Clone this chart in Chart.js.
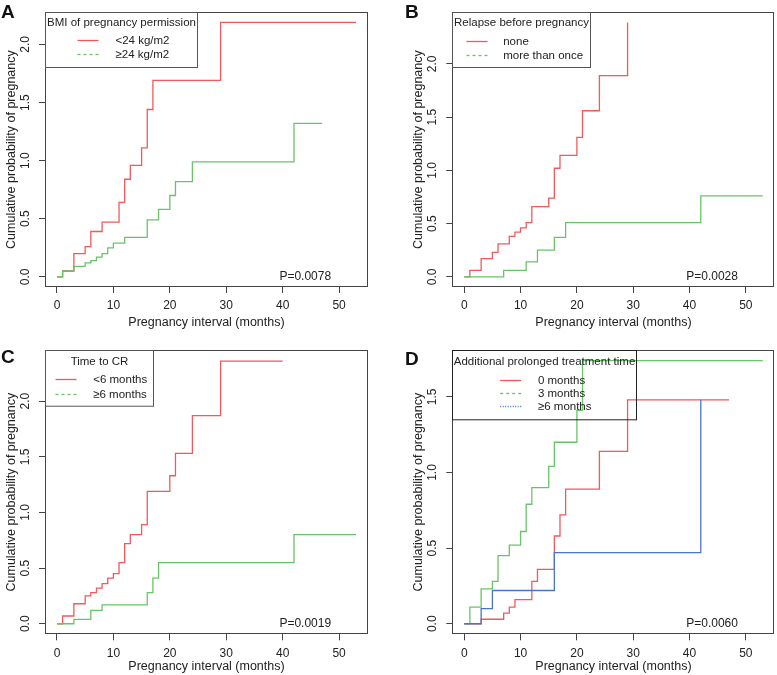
<!DOCTYPE html>
<html lang="en">
<head>
<meta charset="UTF-8">
<title>Cumulative probability of pregnancy</title>
<script src="https://cdn.jsdelivr.net/npm/chart.js"></script>
<style>
  body { margin: 0; background: #fff; font-family: "Liberation Sans", Arial, sans-serif; }
  .figure { position: relative; width: 777px; height: 675px; overflow: hidden; }
  .figure canvas { position: absolute; }
  .letter { position: absolute; font-weight: bold; font-size: 19px; line-height: 19px; color: #111; }
</style>
</head>
<body>
<div class="figure">
  <canvas id="chartA" width="388" height="335" style="left:0;top:0"></canvas>
  <canvas id="chartB" width="389" height="335" style="left:388px;top:0"></canvas>
  <canvas id="chartC" width="388" height="340" style="left:0;top:335px"></canvas>
  <canvas id="chartD" width="389" height="340" style="left:388px;top:335px"></canvas>
  <div class="letter" style="left:1px;top:2px">A</div>
  <div class="letter" style="left:405px;top:2px">B</div>
  <div class="letter" style="left:1px;top:347px">C</div>
  <div class="letter" style="left:405px;top:349px">D</div>
</div>

<script>
// axis text and ticks
const xTitle = 'Pregnancy interval (months)';
const yTitle = 'Cumulative probability of pregnancy';
const xTicks = [0, 10, 20, 30, 40, 50];
const yTicks = [0, 0.5, 1, 1.5, 2];
const yTicksD = [0, 0.5, 1, 1.5];

// A: BMI of pregnancy permission
const bmiTitle = 'BMI of pregnancy permission';
const bmiLabels = ['<24 kg/m2', '≥24 kg/m2'];
const bmiLowTime = [0, 1, 3, 5, 6, 8, 11, 12, 13, 15, 16, 17, 29, 53];
const bmiLowCum = [0, 0.05, 0.20, 0.26, 0.39, 0.47, 0.64, 0.84, 0.96, 1.11, 1.44, 1.69, 2.19, 2.19];
const bmiHighTime = [0, 1, 3, 5, 6, 7, 8, 9, 10, 12, 16, 18, 20, 21, 24, 42, 47];
const bmiHighCum = [0, 0.05, 0.09, 0.12, 0.14, 0.17, 0.20, 0.25, 0.29, 0.34, 0.49, 0.58, 0.70, 0.82, 0.99, 1.32, 1.32];

// B: Relapse before pregnancy
const relapseTitle = 'Relapse before pregnancy';
const relapseLabels = ['none', 'more than once'];
const relapseNoneTime = [0, 1, 3, 5, 6, 8, 9, 10, 11, 12, 15, 16, 17, 20, 21, 24, 29];
const relapseNoneCum = [0, 0.06, 0.17, 0.23, 0.31, 0.38, 0.42, 0.46, 0.51, 0.66, 0.74, 1.02, 1.14, 1.31, 1.56, 1.89, 2.39];
const relapseMoreTime = [0, 7, 11, 13, 16, 18, 42, 53];
const relapseMoreCum = [0, 0.06, 0.14, 0.25, 0.37, 0.51, 0.76, 0.76];

// C: Time to CR
const crTitle = 'Time to CR';
const crLabels = ['<6 months', '≥6 months'];
const crShortTime = [0, 1, 3, 5, 6, 7, 8, 9, 10, 11, 12, 13, 15, 16, 20, 21, 24, 29, 40];
const crShortCum = [0, 0.07, 0.18, 0.25, 0.28, 0.32, 0.36, 0.41, 0.45, 0.55, 0.72, 0.80, 0.89, 1.19, 1.33, 1.53, 1.87, 2.36, 2.36];
const crLongTime = [0, 3, 6, 8, 16, 17, 18, 42, 53];
const crLongCum = [0, 0.04, 0.12, 0.17, 0.28, 0.41, 0.55, 0.80, 0.80];

// D: Additional prolonged treatment time
const extraTitle = 'Additional prolonged treatment time';
const extraLabels = ['0 months', '3 months', '≥6 months'];
const extra0Time = [0, 3, 7, 8, 9, 12, 13, 16, 17, 18, 24, 29, 47];
const extra0Cum = [0, 0.03, 0.07, 0.11, 0.16, 0.28, 0.36, 0.58, 0.72, 0.89, 1.14, 1.48, 1.48];
const extra3Time = [0, 1, 3, 5, 6, 8, 10, 11, 12, 15, 16, 20, 21, 53];
const extra3Cum = [0, 0.11, 0.23, 0.28, 0.45, 0.52, 0.61, 0.79, 0.90, 1.04, 1.20, 1.41, 1.74, 1.74];
const extra6Time = [0, 3, 5, 16, 42];
const extra6Cum = [0, 0.10, 0.22, 0.47, 1.48];

const pValues = ['P=0.0078', 'P=0.0028', 'P=0.0019', 'P=0.0060'];
const pAt = 44; // months, text drawn at y = 0

const RED = '#f05a5c', GREEN = '#68c468', BLUE = '#4a74c6';
const TEXT = '#222', FONT = '"Liberation Sans", Arial, sans-serif';

function pts(times, cums) {
    return times.map((t, i) => ({ x: t, y: cums[i] }));
}

// box, legend and p-value drawn on top of the plot
const kmDecor = {
    id: 'kmDecor',
    afterDatasetsDraw(chart, args, opts) {
        const ctx = chart.ctx;
        const a = chart.chartArea;
        ctx.save();
        ctx.strokeStyle = '#444';
        ctx.lineWidth = 1;
        ctx.strokeRect(Math.round(a.left) + 0.5, Math.round(a.top) + 0.5,
            Math.round(a.right - a.left) - 1, Math.round(a.bottom - a.top) - 1);

        // legend
        const L = opts.legend;
        const lx = Math.round(a.left) + 0.5, ly = Math.round(a.top) + 0.5;
        ctx.strokeStyle = L.border;
        ctx.strokeRect(lx, ly, L.w, L.h);
        ctx.fillStyle = TEXT;
        ctx.font = '11.5px ' + FONT;
        ctx.textBaseline = 'middle';
        ctx.textAlign = 'center';
        ctx.fillText(opts.title, lx + L.w / 2, ly + L.titleY);
        ctx.textAlign = 'left';
        chart.data.datasets.forEach((ds, i) => {
            const y = Math.round(ly + L.rows[i]) + 0.5;
            ctx.strokeStyle = ds.borderColor;
            ctx.lineWidth = 1.3;
            ctx.setLineDash(L.dash[i]);
            ctx.beginPath();
            ctx.moveTo(lx + L.line[0], y);
            ctx.lineTo(lx + L.line[1], y);
            ctx.stroke();
            ctx.setLineDash([]);
            ctx.fillText(ds.label, lx + L.text, y);
        });

        // p value
        ctx.font = '12px ' + FONT;
        ctx.textAlign = 'center';
        ctx.fillText(opts.p, chart.scales.x.getPixelForValue(pAt), chart.scales.y.getPixelForValue(0));
        ctx.restore();
    }
};

function makeChart(id, series, title, p, ticksY, yMax, lay, legend) {
    const yMin = -0.04 * yMax, yTop = yMax * 1.04;
    return new Chart(document.getElementById(id), {
        type: 'line',
        data: {
            datasets: series.map((s, i) => ({
                label: s.label,
                data: pts(s.time, s.cum),
                borderColor: s.color,
                backgroundColor: s.color,
                borderWidth: 1.3,
                pointRadius: 0,
                stepped: 'before',
                fill: false,
                order: series.length - i
            }))
        },
        options: {
            responsive: false,
            animation: false,
            events: [],
            layout: { padding: { left: lay.padL, right: lay.padR, top: lay.padT, bottom: 0 } },
            scales: {
                x: {
                    type: 'linear',
                    min: -0.04 * 53,
                    max: 53 * 1.04,
                    afterBuildTicks: s => { s.ticks = xTicks.map(v => ({ value: v })); },
                    afterFit: s => { s.height = lay.axisH; },
                    grid: { drawOnChartArea: false, drawTicks: true, tickLength: 6, color: '#444' },
                    border: { display: false },
                    ticks: { autoSkip: false, maxRotation: 0, padding: lay.xPad, color: TEXT, font: { family: FONT, size: 12 } },
                    title: { display: true, text: xTitle, color: TEXT, font: { family: FONT, size: 12.5 }, padding: { top: 0, bottom: lay.titlePad } }
                },
                y: {
                    type: 'linear',
                    min: yMin,
                    max: yTop,
                    afterBuildTicks: s => { s.ticks = ticksY.map(v => ({ value: v })); },
                    afterFit: s => { s.width = 45; },
                    grid: { drawOnChartArea: false, drawTicks: true, tickLength: 6, color: '#444' },
                    border: { display: false },
                    ticks: {
                        autoSkip: false, minRotation: 90, maxRotation: 90, crossAlign: 'center', padding: 5,
                        color: TEXT, font: { family: FONT, size: 12 },
                        callback: v => v.toFixed(1)
                    },
                    title: { display: true, text: yTitle, color: TEXT, font: { family: FONT, size: 12.5 }, padding: { top: 4, bottom: 0 } }
                }
            },
            plugins: {
                legend: { display: false },
                tooltip: { enabled: false },
                kmDecor: { title: title, p: p, legend: legend }
            }
        },
        plugins: [kmDecor]
    });
}

const topLay = { padT: 5, axisH: 48, xPad: 5.5, titlePad: 5 };
const botLay = { padT: 15, axisH: 40.7, xPad: 6.5, titlePad: 1 };
const leftCol = { padL: 0, padR: 20 };
const rightCol = { padL: 19.3, padR: 2.3 };

makeChart('chartA', [
    { label: bmiLabels[0], time: bmiLowTime, cum: bmiLowCum, color: RED },
    { label: bmiLabels[1], time: bmiHighTime, cum: bmiHighCum, color: GREEN }
], bmiTitle, pValues[0], yTicks, 2.19, Object.assign({}, topLay, leftCol),
    { w: 152, h: 55, titleY: 10.7, rows: [27.3, 41.7], line: [32, 53], text: 70, dash: [[], [3, 3]], border: '#555' });

makeChart('chartB', [
    { label: relapseLabels[0], time: relapseNoneTime, cum: relapseNoneCum, color: RED },
    { label: relapseLabels[1], time: relapseMoreTime, cum: relapseMoreCum, color: GREEN }
], relapseTitle, pValues[1], yTicks, 2.39, Object.assign({}, topLay, rightCol),
    { w: 138, h: 55, titleY: 10.7, rows: [28, 42], line: [14, 35], text: 50.7, dash: [[], [3, 3]], border: '#555' });

makeChart('chartC', [
    { label: crLabels[0], time: crShortTime, cum: crShortCum, color: RED },
    { label: crLabels[1], time: crLongTime, cum: crLongCum, color: GREEN }
], crTitle, pValues[2], yTicks, 2.365, Object.assign({}, botLay, leftCol),
    { w: 108, h: 55.7, titleY: 11.7, rows: [28.3, 43.3], line: [10, 31], text: 47.7, dash: [[], [3, 3]], border: '#555' });

makeChart('chartD', [
    { label: extraLabels[0], time: extra0Time, cum: extra0Cum, color: RED },
    { label: extraLabels[1], time: extra3Time, cum: extra3Cum, color: GREEN },
    { label: extraLabels[2], time: extra6Time, cum: extra6Cum, color: BLUE }
], extraTitle, pValues[3], yTicksD, 1.74, Object.assign({}, botLay, rightCol),
    { w: 184, h: 69.3, titleY: 11.7, rows: [29, 42.3, 55.7], line: [47.7, 68.7], text: 85.4, dash: [[], [3, 3], [1, 1.5]], border: '#222' });
</script>
</body>
</html>
